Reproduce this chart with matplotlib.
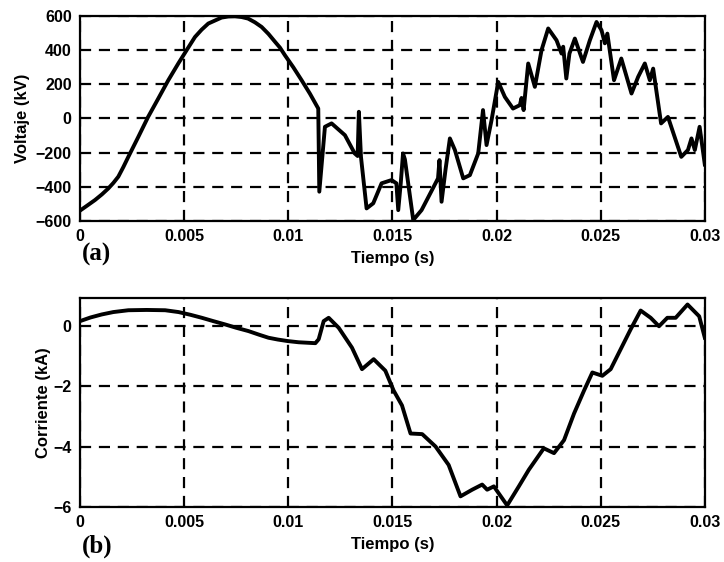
import matplotlib
matplotlib.use("Agg")
import matplotlib.pyplot as plt

# voltage trace (t in ms, kV)
t_v = [0, 0.35, 0.72, 1.05, 1.36, 1.6, 1.84, 2.08, 2.32, 2.8, 3.27, 3.76, 4.24, 4.72,
       5.12, 5.52, 5.84, 6.16, 6.8, 7.12, 7.44, 7.76, 8.07, 8.4, 8.72, 9.05, 9.37, 9.6,
       9.84, 10.24, 10.64, 11.04, 11.44, 11.49, 11.76, 12.08, 12.72, 13.19,
       13.33, 13.39, 13.49, 13.76, 14.08, 14.48, 14.96, 15.19, 15.28, 15.4, 15.51, 15.6,
       16.0, 16.4, 16.86, 17.19, 17.26, 17.36, 17.55, 17.76, 18.0, 18.4, 18.72, 19.12,
       19.35, 19.52, 19.76, 20.08, 20.4, 20.79, 21.12, 21.2, 21.3, 21.52, 21.84, 22.16,
       22.48, 22.88, 23.12, 23.2, 23.35, 23.5, 23.76, 24.15, 24.48, 24.8, 25.04, 25.2,
       25.32, 25.64, 25.99, 26.48, 26.8, 27.12, 27.36, 27.52, 27.9, 28.23, 28.87, 29.19,
       29.36, 29.52, 29.75, 30.0]
voltaje = [-540, -510, -478, -445, -410, -378, -341, -285, -225, -108, 9, 117, 224, 322,
           400, 477, 520, 556, 591, 597, 598, 594, 585, 563, 536, 495, 448, 415,
           370, 300, 224, 145, 58, -429, -49, -29, -98, -205,
           -220, 39, -225, -527, -497, -380, -361, -380, -537, -380, -205, -240,
           -595, -537, -429, -351, -244, -488, -300, -117, -185, -351, -332, -205,
           49, -156, -10, 214, 126, 58, 78, 120, 49, 322, 185, 400,
           527, 458, 380, 420, 234, 380, 468, 331, 458, 565, 517, 440,
           497, 224, 351, 146, 244, 322, 224, 292, -29, 9, -225, -185,
           -117, -185, -49, -270]

# current trace (t in ms, kA)
t_i = [0, 0.5, 1.04, 1.6, 2.32, 3.2, 4.09, 4.73, 5.3, 5.85, 6.4, 6.97, 7.5, 8.09, 8.6,
       9.05, 9.5, 9.97, 10.5, 11.3, 11.46, 11.7, 11.94, 12.42, 13.06, 13.54, 14.1,
       14.66, 15.06, 15.46, 15.87, 16.43, 17.07, 17.7, 18.27, 18.83, 19.31, 19.55,
       19.87, 20.51, 21.07, 21.55, 22.27, 22.76, 23.24, 23.72, 24.2, 24.6, 25.08,
       25.48, 25.96, 26.44, 26.92, 27.4, 27.8, 28.2, 28.6, 29.17, 29.73, 30.0]
corriente = [0.15, 0.27, 0.37, 0.45, 0.51, 0.52, 0.51, 0.45, 0.36, 0.26, 0.15, 0.04,
             -0.07, -0.18, -0.3, -0.4, -0.46, -0.51, -0.55, -0.58, -0.45, 0.15, 0.26,
             -0.07, -0.73, -1.44, -1.11, -1.49, -2.15, -2.64, -3.57, -3.59, -4.0,
             -4.61, -5.65, -5.43, -5.26, -5.43, -5.32, -5.95, -5.32, -4.77, -4.06,
             -4.22, -3.79, -2.91, -2.15, -1.55, -1.66, -1.44, -0.78, -0.12, 0.5, 0.26,
             -0.02, 0.26, 0.26, 0.7, 0.31, -0.4]

xticks = [0, 0.005, 0.01, 0.015, 0.02, 0.025, 0.03]
xlabels = ["0", "0.005", "0.01", "0.015", "0.02", "0.025", "0.03"]

plt.rcParams['font.family'] = ['Liberation Sans', 'DejaVu Sans']
plt.rcParams['font.weight'] = 'bold'

fig = plt.figure(figsize=(7.24, 5.62), dpi=100)
ax1 = fig.add_axes([0.1105, 0.607, 0.863, 0.3645])
ax2 = fig.add_axes([0.1105, 0.098, 0.863, 0.372])

def style(ax):
    ax.set_xlim(0, 0.03)
    ax.set_xticks(xticks)
    ax.set_xticklabels(xlabels)
    ax.grid(True, color='black', linestyle=(0, (5, 3.5)), linewidth=1.6)
    ax.tick_params(direction='in', length=0, labelsize=11.5, pad=6)
    for s in ax.spines.values():
        s.set_linewidth(1.6)
    ax.set_xlabel("Tiempo (s)", fontsize=12, fontweight='bold', labelpad=5)

ax1.plot([t / 1000 for t in t_v], voltaje, color='black', linewidth=2.8)
style(ax1)
ax1.set_ylim(-600, 600)
ax1.set_yticks([-600, -400, -200, 0, 200, 400, 600])
ax1.set_ylabel("Voltaje (kV)", fontsize=12, fontweight='bold', labelpad=4)

ax2.plot([t / 1000 for t in t_i], corriente, color='black', linewidth=2.8)
style(ax2)
ax2.set_ylim(-6, 0.92)
ax2.set_yticks([-6, -4, -2, 0])
ax2.set_ylabel("Corriente (kA)", fontsize=12, fontweight='bold', labelpad=2)

fig.text(0.113, 0.537, "(a)", family='Liberation Serif', fontsize=18, fontweight='bold')
fig.text(0.113, 0.016, "(b)", family='Liberation Serif', fontsize=18, fontweight='bold')

fig.savefig("out.png", dpi=100)
